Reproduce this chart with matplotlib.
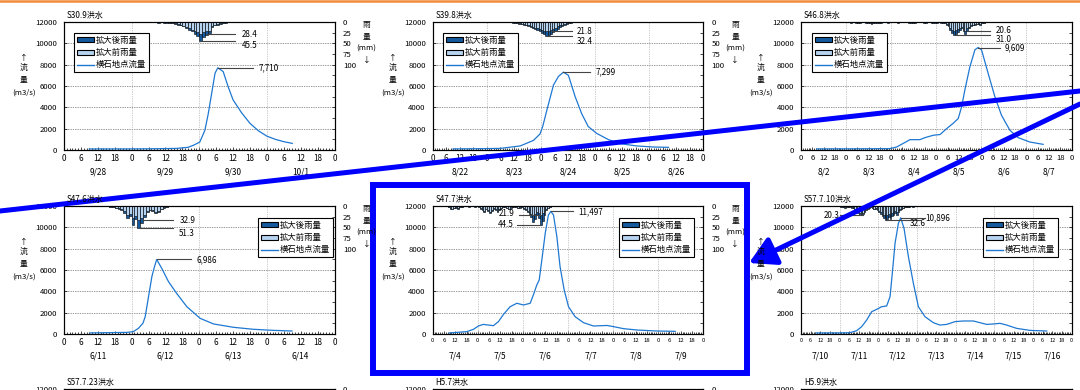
import matplotlib
matplotlib.use("Agg")
import matplotlib.pyplot as plt
from matplotlib.patches import Patch, Rectangle, FancyArrowPatch
from matplotlib.lines import Line2D
import numpy as np

plt.rcParams['font.family'] = ['Noto Sans CJK JP', 'DejaVu Sans']

W, H = 1080, 390
PW, PH = 270.5, 128

DARK = '#155A9E'
LIGHT = '#B6D3EF'
LINE = '#1E78D2'
BLUE = '#0000FF'

legend_labels = ['拡大後雨量', '拡大前雨量', '横石地点流量']
bottom_titles = ['S57.7.23洪水', 'H5.7洪水', 'H5.9洪水']

# S30.9
s30_title = 'S30.9洪水'
s30_days = ['9/28', '9/29', '9/30', '10/1']
s30_hours = [9, 20, 30, 40, 44, 46, 48.2, 50, 51.2, 52.4, 53.6, 54.6, 56.5, 58.3, 60, 63, 66, 69, 72, 75, 78, 81]
s30_flow = [100, 100, 110, 150, 250, 450, 750, 1850, 3400, 5300, 7200, 7710, 7350, 5900, 4700, 3500, 2500, 1800, 1300, 1000, 780, 620]
s30_rain_start = 26
s30_rain_after = [1, 1, 1, 1, 1, 1, 1, 1.5, 1, 1.5, 1.5, 2,
                  2, 4, 6, 8, 10, 14, 18, 22, 28, 32, 45.5, 36, 30, 26, 12, 8, 6, 4, 3, 2]
s30_rain_before = [1, 1, 1, 1, 1, 1, 1, 1, 1, 1, 1, 1.5,
                   2, 3, 5, 7, 9, 12, 15, 18, 22, 24, 28.4, 24, 22, 20, 10, 6, 5, 3, 2, 1]

# S39.8
s39_title = 'S39.8洪水'
s39_days = ['8/22', '8/23', '8/24', '8/25', '8/26']
s39_hours = [9, 20, 30, 38.8, 44.7, 47.6, 48.8, 50.6, 53.6, 55.8, 58, 60.2, 63.2, 66.1, 69, 72.8, 78, 83.1, 90.5, 98, 104.6]
s39_flow = [100, 120, 150, 380, 900, 1500, 2200, 3700, 6100, 6900, 7299, 7000, 5000, 3400, 2200, 1550, 970, 600, 380, 280, 250]
s39_rain_start = 32
s39_rain_after = [1, 1, 1, 2, 2, 3, 4, 5, 6, 8, 10, 12, 14, 16, 18, 22, 26, 28, 32.4, 30, 28, 24, 20,
                  16, 12, 9, 7, 5, 3, 2, 1, 1, 1, 1, 1, 1, 1, 1]
s39_rain_before = [1, 1, 1, 1, 2, 2, 3, 4, 5, 6, 8, 10, 12, 13, 15, 17, 19, 20, 21.8, 21, 19, 16, 13,
                   10, 8, 6, 4, 3, 2, 1, 1, 1, 1, 1, 1, 1, 0.5, 0.5]

# S46.8
s46_title = 'S46.8洪水'
s46_days = ['8/2', '8/3', '8/4', '8/5', '8/6', '8/7']
s46_hours = [8.3, 30, 47.3, 50.9, 53.5, 58, 63.3, 66, 70.4, 74, 77.5, 81, 83.7, 85.5, 87.2, 89.9, 92.6,
             94.3, 96.1, 99.6, 103.2, 106.7, 111.2, 115.6, 121.8, 128.9]
s46_flow = [100, 110, 130, 280, 530, 970, 970, 1160, 1380, 1450, 2000, 2500, 2950, 4050, 5600, 7800, 9400,
            9609, 9400, 7200, 5000, 3270, 1850, 1160, 750, 530]
s46_rain_start = 24
s46_rain_after = [1, 1, 2, 1, 1, 2, 3, 2, 1, 1, 2, 2, 3, 4, 3, 2, 2, 3, 2, 1, 1, 1, 2, 1, 1, 1,
                  1, 2, 1, 1, 1, 1, 1, 2, 2, 3, 2, 1, 1, 1, 1, 2, 2, 1, 1, 2, 3, 2, 2, 1, 2, 3,
                  3, 6, 10, 18, 26, 31.0, 28, 24, 18, 14, 22, 27, 20, 14, 10, 8, 6, 5, 4, 6, 3, 2, 1]
s46_rain_before = [1, 1, 1, 1, 1, 1, 2, 1, 1, 1, 1, 1, 2, 3, 2, 1, 1, 2, 1, 1, 1, 1, 1, 1, 1, 1,
                   1, 1, 1, 1, 1, 1, 1, 1, 1, 2, 1, 1, 1, 1, 1, 1, 1, 1, 1, 1, 2, 1, 1, 1, 1, 2,
                   2, 5, 8, 14, 18, 20, 19, 17, 14, 12, 16, 20.6, 15, 11, 8, 7, 5, 4, 3, 5, 2, 2, 1]

# S47.6
s476_title = 'S47.6洪水'
s476_days = ['6/11', '6/12', '6/13', '6/14']
s476_hours = [9.2, 22.3, 24.6, 26.4, 28, 28.8, 30, 31.2, 32.1, 32.9, 34.7, 37.1, 40, 43.6, 48.3, 53.1, 60.2, 67.3, 74.4, 80.9]
s476_flow = [100, 150, 220, 530, 1000, 1600, 3500, 5400, 6300, 6986, 6150, 4900, 3800, 2560, 1470, 940, 625, 440, 340, 280]
s476_rain_start = 16
s476_rain_after = [2, 3, 4, 6, 10, 16, 29, 24, 45, 30, 51.3, 40, 26, 14, 10, 12, 16, 14, 8, 4, 2]
s476_rain_before = [2, 3, 4, 5, 8, 12, 20, 18, 28, 24, 32.9, 28, 20, 12, 9, 10, 13, 12, 6, 3, 2]

# S47.7
s477_title = 'S47.7洪水'
s477_days = ['7/4', '7/5', '7/6', '7/7', '7/8', '7/9']
s477_hours = [8.9, 18.1, 21.7, 24.3, 27, 29.7, 32.3, 35, 37.7, 41.2, 44.8, 48.3, 51.9, 53.6, 55.4, 56.7, 58.1,
              59.9, 61.6, 62.9, 64.3, 66.1, 67.8, 70, 72.3, 75.8, 80.3, 85.6, 92.7, 96.3, 101.6, 108.7, 119.4, 129.1]
s477_flow = [100, 220, 440, 750, 900, 840, 780, 1160, 1840, 2560, 2880, 2720, 2880, 3660, 4590, 5060, 6940,
             9440, 11160, 11497, 11160, 9125, 6310, 4125, 2560, 1625, 1060, 750, 800, 690, 500, 375, 280, 250]
s477_rain_start = 8
s477_rain_after = [3, 6, 8, 5, 4, 6, 3, 2, 1, 1, 1, 2, 1, 1, 2, 1, 2,
                   6, 10, 15, 8, 12, 17, 11, 6, 10, 15, 9, 5, 2, 3, 5, 7, 4, 3, 2, 3, 5, 4, 3,
                   6, 10, 14, 18, 26, 38, 30, 22, 28, 44.5, 34, 20, 10, 5, 2]
s477_rain_before = [2, 5, 6, 4, 3, 5, 2, 2, 1, 1, 1, 1, 1, 1, 1, 1, 1,
                    4, 8, 12, 6, 10, 14, 9, 5, 8, 12, 7, 4, 2, 3, 4, 6, 3, 3, 2, 2, 4, 3, 2,
                    5, 8, 11, 14, 18, 21.9, 18, 15, 17, 20, 16, 12, 7, 4, 2]

# S57.7.10
s5710_title = 'S57.7.10洪水'
s5710_days = ['7/10', '7/11', '7/12', '7/13', '7/14', '7/15', '7/16']
s5710_hours = [9.3, 24.2, 30.4, 34.6, 37.7, 40.8, 43.9, 47, 50.1, 53.2, 55.3, 56.9, 58.4, 60.5, 61.9, 64, 66.7,
               69.8, 72.9, 77, 82.2, 86.3, 90.5, 95.7, 100.8, 107, 111.2, 115.3, 119.5, 123.6, 127.7, 133.9, 142.2, 152.6]
s5710_flow = [100, 100, 125, 310, 690, 1310, 2090, 2310, 2560, 2625, 3500, 6000, 8500, 10375, 10896, 9900, 7250,
              4750, 2560, 1625, 1060, 840, 900, 1160, 1220, 1220, 1060, 900, 940, 1000, 840, 530, 340, 280]
s5710_rain_start = 24
s5710_rain_after = [2, 3, 2, 4, 3, 2, 3, 4, 5, 8, 12, 16, 22, 20, 18, 14, 10, 6, 4, 3, 5, 8, 6, 10, 14,
                    18, 24, 28, 32.6, 30, 26, 30, 24, 20, 16, 22, 14, 10, 8, 5, 3, 2, 3, 2, 1, 2, 1]
s5710_rain_before = [1, 2, 2, 3, 2, 2, 2, 3, 4, 6, 10, 13, 17, 20.3, 16, 12, 8, 5, 3, 3, 4, 6, 5, 8, 11,
                     14, 18, 20, 19, 20, 18, 19, 17, 14, 12, 15, 10, 8, 6, 4, 2, 1, 2, 1, 1, 1, 1]

# layout: panel boxes in pixels
col_left = [64, 432.7, 801]
row_top = [22, 206, 389]

fig = plt.figure(figsize=(W / 100, H / 100), dpi=100)


def ftext(x, y, s, **kw):
    fig.text(x / W, 1 - y / H, s, **kw)


def side_labels(left, top, title, show_right=True):
    right = left + PW
    ftext(left + 3, top - 7, title, ha='left', va='center', fontsize=5.8)
    for t, dy in (('↑', 36), ('流', 46), ('量', 58), ('(m3/s)', 71)):
        ftext(left - 40, top + dy, t, ha='center', va='center', fontsize=5.6)
    if show_right:
        for t, dy in (('雨', 3), ('量', 15), ('(mm)', 27), ('↓', 39)):
            ftext(right + 32, top + dy, t, ha='center', va='center', fontsize=5.6)


def base_axes(left, top, xmax):
    ax = fig.add_axes([left / W, 1 - (top + PH) / H, PW / W, PH / H])
    ax.set_xlim(0, xmax)
    ax.set_ylim(0, 12000)
    ax.set_yticks(range(0, 12001, 2000))
    ax.tick_params(axis='y', direction='in', length=2, width=0.5, labelsize=5.6, pad=5)
    ax.grid(axis='y', color='#333333', ls=(0, (1, 1.5)), lw=0.5)
    for s in ax.spines.values():
        s.set_linewidth(0.8)
    ax2 = ax.twinx()
    ax2.set_ylim(300, 0)
    ax2.set_yticks(range(0, 301, 25))
    ax2.set_yticklabels([str(v) if v <= 100 else '' for v in range(0, 301, 25)])
    ax2.tick_params(axis='y', direction='in', length=2, width=0.5, labelsize=5.6, pad=6)
    return ax, ax2


def draw_panel(left, top, title, days, hours, flow, rain_start, after, before, lay):
    xmax = 24 * len(days)
    ax, ax2 = base_axes(left, top, xmax)
    ax.set_xticks(range(0, xmax + 1, 6))
    ax.set_xticklabels([str(h % 24) for h in range(0, xmax + 1, 6)])
    ax.set_xticks(range(0, xmax + 1), minor=True)
    ax.tick_params(axis='x', which='major', direction='in', length=2.5, width=0.5,
                   labelsize=lay['xt'], pad=3)
    ax.tick_params(axis='x', which='minor', direction='in', length=1.5, width=0.5)
    for d in range(1, len(days)):
        ax.axvline(24 * d, color='#9a9a9a', ls=(0, (1, 1.5)), lw=0.5)
    for i, d in enumerate(days):
        ax.text(24 * i + 12, -22 / PH, d, transform=ax.get_xaxis_transform(),
                ha='center', va='center', fontsize=6)

    ax.plot(hours, flow, color=LINE, lw=0.9, zorder=3)
    ax2.bar(np.arange(len(after)) + rain_start + 0.5, after, width=1,
            color=DARK, edgecolor='black', lw=0.4)
    ax2.bar(np.arange(len(before)) + rain_start + 0.5, before, width=1,
            color=LIGHT, edgecolor='black', lw=0.4)

    for vals, key in ((before, 'before'), (after, 'after')):
        v = max(vals)
        x0, x1, tx, dy, ha = lay[key]
        ax2.plot([x0, x1], [v, v], color='#444444', lw=0.8)
        ax2.text(tx, v + dy, f'{v:.1f}', fontsize=5.8, ha=ha, va='center')
    pk = max(flow)
    ph = hours[flow.index(pk)]
    x1, tx = lay['peak']
    ax.plot([ph, x1], [pk, pk], color='#444444', lw=0.8, zorder=4)
    ax.text(tx, pk, f'{pk:,}', fontsize=5.8, va='center')

    handles = [Patch(facecolor=DARK, edgecolor='black', lw=0.8),
               Patch(facecolor=LIGHT, edgecolor='black', lw=0.8),
               Line2D([], [], color=LINE, lw=1)]
    loc, (lx, ly) = lay['leg']
    leg = ax2.legend(handles, legend_labels, loc=loc, bbox_to_anchor=(lx / W, 1 - ly / H),
                     bbox_transform=fig.transFigure, fontsize=6, frameon=True, fancybox=False,
                     edgecolor='black', framealpha=1, borderpad=0.35, labelspacing=0.38,
                     handlelength=2.0, handleheight=0.55, handletextpad=0.25, borderaxespad=0)
    leg.get_frame().set_linewidth(0.8)
    side_labels(left, top, title, show_right=left + PW + 32 < W)


panels = [
    (s30_title, s30_days, s30_hours, s30_flow, s30_rain_start, s30_rain_after, s30_rain_before,
     dict(leg=('upper left', (74, 33)), before=(50.8, 60.8, 63, 0, 'left'),
          after=(48.4, 60.8, 63, 10, 'left'), peak=(67.2, 69), xt=5.8)),
    (s39_title, s39_days, s39_hours, s39_flow, s39_rain_start, s39_rain_after, s39_rain_before,
     dict(leg=('upper left', (443, 33)), before=(53, 62, 64.1, 0, 'left'),
          after=(51, 62, 64.1, 13, 'left'), peak=(69.9, 72.1), xt=5.8)),
    (s46_title, s46_days, s46_hours, s46_flow, s46_rain_start, s46_rain_after, s46_rain_before,
     dict(leg=('upper left', (812, 33)), before=(89, 100.5, 103.7, 0, 'left'),
          after=(82, 100.5, 103.7, 9, 'left'), peak=(105.9, 108.5), xt=5.5)),
    (s476_title, s476_days, s476_hours, s476_flow, s476_rain_start, s476_rain_after, s476_rain_before,
     dict(leg=('upper right', (333, 218)), before=(28, 38.8, 40.9, 0, 'left'),
          after=(27, 38.8, 40.9, 14, 'left'), peak=(45.2, 46.9), xt=5.8)),
    (s477_title, s477_days, s477_hours, s477_flow, s477_rain_start, s477_rain_after, s477_rain_before,
     dict(leg=('upper right', (694, 218)), before=(45.8, 57, 43.3, -5, 'right'),
          after=(45, 57, 43.3, 0, 'right'), peak=(74.8, 77.4), xt=4.3)),
    (s5710_title, s5710_days, s5710_hours, s5710_flow, s5710_rain_start, s5710_rain_after, s5710_rain_before,
     dict(leg=('upper right', (1058, 218)), before=(24.5, 38.5, 24, 1, 'right'),
          after=(53, 74, 67.6, 9, 'left'), peak=(77, 77.5), xt=4.0)),
]

for i, p in enumerate(panels):
    draw_panel(col_left[i % 3], row_top[i // 3], *p)

# third row, mostly cut off at the bottom edge: only the title and the top tick labels show
for i, t in enumerate(bottom_titles):
    ax, ax2 = base_axes(col_left[i], row_top[2], 96)
    ax.set_xticks([])
    ax.set_yticks([12000])
    ax2.set_yticks([0])
    ax2.set_yticklabels(['0'])
    ftext(col_left[i] + 3, row_top[2] - 7, t, ha='left', va='center', fontsize=5.8)

# overlays
fig.add_artist(Line2D([0, 1], [1 - 1.2 / H, 1 - 1.2 / H], color='#F28C3C', lw=1.8))
fig.add_artist(Rectangle((373 / W, 1 - 372.5 / H), (746.5 - 373) / W, (372.5 - 184.5) / H,
                         fill=False, edgecolor=BLUE, lw=4.3))
fig.add_artist(Line2D([0, 1], [1 - 211 / H, 1 - 91 / H], color=BLUE, lw=3.6))
fig.add_artist(FancyArrowPatch((1.0, 1 - 104 / H), (749 / W, 1 - 263 / H), transform=fig.transFigure,
                               arrowstyle='-|>,head_length=0.8,head_width=0.45', mutation_scale=20,
                               color=BLUE, lw=3.6, shrinkA=0, shrinkB=0))

fig.savefig('out.png', dpi=100)
